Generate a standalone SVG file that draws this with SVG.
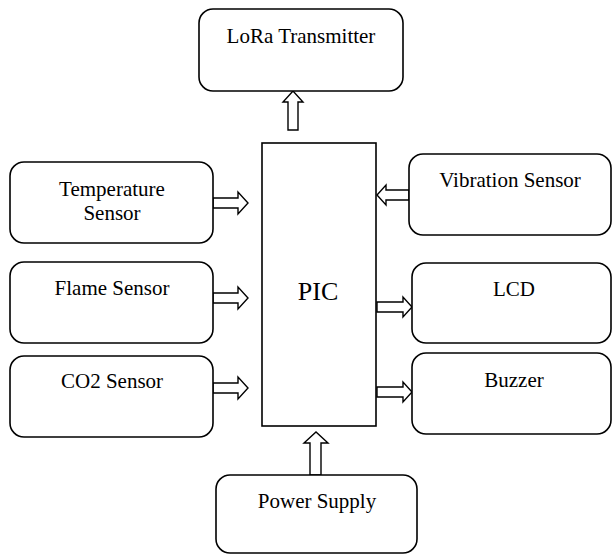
<svg xmlns="http://www.w3.org/2000/svg" width="613" height="555" viewBox="0 0 613 555">
<style>
.box{fill:#fff;stroke:#000;stroke-width:1.6}
.arr{fill:#fff;stroke:#000;stroke-width:1.4;stroke-linejoin:miter}
.t{font-size:21px;fill:#000;text-anchor:middle}
.big{font-size:26px}
</style>
<rect width="613" height="555" fill="#fff"/>
<g id="connectors">
<polygon class="arr" points="288,130 288,102 283,102 293,91 303,102 298,102 298,130"/>
<polygon class="arr" points="310,475 310,443 304,443 316,432 328,443 321,443 321,475"/>
<polygon class="arr" points="213,198 238,198 238,192 248,203 238,214 238,208 213,208"/>
<polygon class="arr" points="213,293 238,293 238,287 248,298 238,309 238,303 213,303"/>
<polygon class="arr" points="213,383 238,383 238,377 248,388 238,399 238,393 213,393"/>
<polygon class="arr" points="409,190 386,190 386,185 377,195 386,205 386,200 409,200"/>
<polygon class="arr" points="377,302 403,302 403,297 412,307 403,317 403,312 377,312"/>
<polygon class="arr" points="377,387 403,387 403,382 412,392 403,402 403,397 377,397"/>
</g>
<g font-family="Liberation Serif, Times New Roman, DejaVu Serif, serif">
<g id="pic">
<rect class="box" x="262" y="143" width="114" height="283"/>
<text class="t big" x="318" y="300">PIC</text>
</g>
<g id="lora">
<rect class="box" x="199" y="9" width="204" height="82" rx="14"/>
<text class="t" x="301" y="43">LoRa Transmitter</text>
</g>
<g id="temperature">
<rect class="box" x="10" y="162" width="203" height="81" rx="14"/>
<text class="t" x="112" y="196">Temperature</text>
<text class="t" x="112" y="220">Sensor</text>
</g>
<g id="flame">
<rect class="box" x="10" y="262" width="203" height="81" rx="14"/>
<text class="t" x="112" y="295">Flame Sensor</text>
</g>
<g id="co2">
<rect class="box" x="10" y="356" width="203" height="81" rx="14"/>
<text class="t" x="112" y="388">CO2 Sensor</text>
</g>
<g id="vibration">
<rect class="box" x="409" y="154" width="202" height="81" rx="14"/>
<text class="t" x="510" y="187">Vibration Sensor</text>
</g>
<g id="lcd">
<rect class="box" x="412" y="263" width="199" height="80" rx="14"/>
<text class="t" x="514" y="296">LCD</text>
</g>
<g id="buzzer">
<rect class="box" x="412" y="353" width="199" height="81" rx="14"/>
<text class="t" x="514" y="387">Buzzer</text>
</g>
<g id="power">
<rect class="box" x="216" y="475" width="201" height="78" rx="14"/>
<text class="t" x="317" y="508">Power Supply</text>
</g>
</g>
</svg>
